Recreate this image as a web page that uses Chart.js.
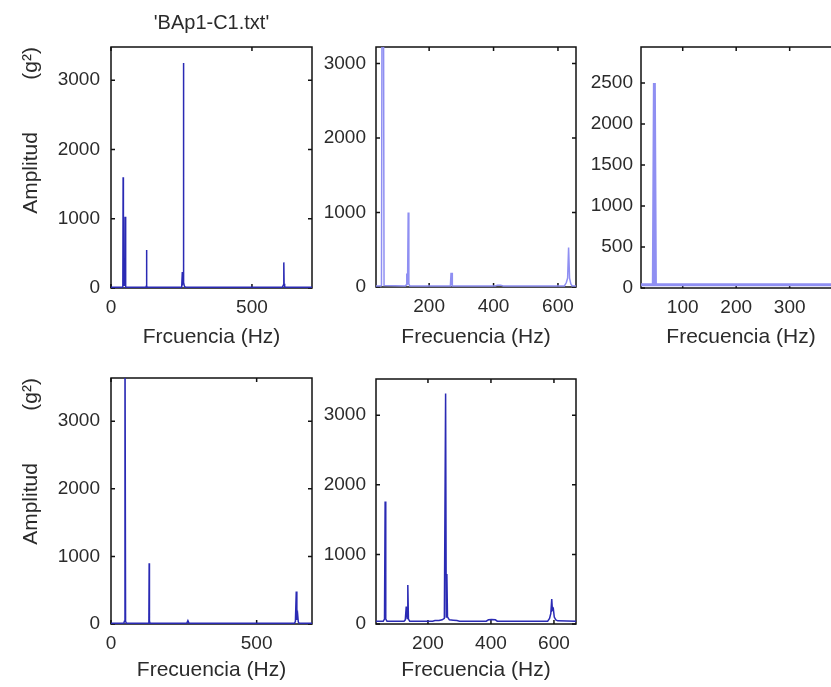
<!DOCTYPE html>
<html>
<head>
<meta charset="utf-8">
<script src="https://cdn.jsdelivr.net/npm/chart.js@4"></script>
<style>
  html, body { margin: 0; padding: 0; background: #fff; overflow: hidden; }
  body { width: 831px; height: 687px; position: relative; }
  canvas { position: absolute; }
</style>
</head>
<body>
<canvas id="c1"></canvas>
<canvas id="c2"></canvas>
<canvas id="c3"></canvas>
<canvas id="c4"></canvas>
<canvas id="c5"></canvas>
<script>
// espectros (Hz / amplitud g^2)
const freq1 = [0, 40, 42, 43, 44, 49, 50, 51, 53, 124, 125.5, 126, 127, 128.5, 249, 251, 253, 254, 256, 257, 258, 260, 264, 608, 611, 613, 614, 616, 620, 713];
const amp1  = [10, 10, 40, 1600, 40, 40, 1030, 30, 10, 10, 30, 550, 30, 10, 10, 40, 230, 60, 80, 3250, 80, 30, 10, 10, 40, 370, 60, 20, 10, 10];

const freq2 = [35, 50, 52, 54, 58, 60, 126, 129, 130, 131, 133, 135, 137, 140, 266, 268, 269, 271, 272, 405, 412, 422, 430, 620, 626, 630, 633, 636, 640, 644, 656];
const amp2  = [15, 15, 20, 4500, 4500, 20, 15, 30, 180, 30, 40, 1000, 40, 15, 15, 190, 20, 190, 15, 15, 25, 25, 15, 15, 60, 120, 530, 120, 40, 15, 15];

const freq3 = [22, 45, 47, 49, 396];
const amp3  = [40, 40, 2500, 40, 40];

const freq4 = [0, 44, 46, 48, 50, 53, 128, 130, 131, 132, 134, 260, 264, 268, 630, 633, 636, 638, 641, 643, 646, 690];
const amp4  = [10, 10, 40, 4500, 40, 10, 10, 40, 900, 40, 10, 10, 50, 10, 10, 40, 480, 60, 130, 30, 10, 10];

const freq5 = [35, 58, 62, 64, 66, 70, 124, 128, 131, 134, 136, 138, 142, 215, 222, 235, 245, 252, 256, 258, 260, 262, 268, 280, 292, 300, 385, 392, 402, 414, 420, 580, 586, 590, 593, 595, 598, 601, 606, 612, 670];
const amp5  = [40, 40, 70, 1760, 70, 40, 40, 60, 250, 80, 560, 70, 40, 40, 50, 50, 60, 80, 3310, 100, 720, 100, 60, 55, 50, 40, 40, 60, 65, 60, 40, 40, 80, 150, 360, 200, 220, 100, 60, 45, 40];

const xTicks1 = [0, 500];
const xTicks2 = [200, 400, 600];
const xTicks3 = [100, 200, 300];
const xTicks4 = [0, 500];
const xTicks5 = [200, 400, 600];
const yTicks1000 = [0, 1000, 2000, 3000];
const yTicks500 = [0, 500, 1000, 1500, 2000, 2500];

const dark = '#2a2ab4';
const light = '#8f8ff2';

Chart.defaults.font.family = "'Liberation Sans', Arial, sans-serif";
Chart.defaults.color = '#2b2b2b';

// caja estilo matlab con marcas hacia dentro
const boxPlugin = {
  id: 'axesBox',
  beforeDatasetsDraw(chart) {
    const a = chart.chartArea, c = chart.ctx;
    const sx = chart.scales.x, sy = chart.scales.y;
    c.save();
    c.strokeStyle = '#111';
    c.lineWidth = 1.5;
    c.strokeRect(a.left, a.top, a.right - a.left, a.bottom - a.top);
    c.beginPath();
    sx.ticks.forEach(t => {
      const p = sx.getPixelForValue(t.value);
      c.moveTo(p, a.bottom); c.lineTo(p, a.bottom - 4);
      c.moveTo(p, a.top); c.lineTo(p, a.top + 4);
    });
    sy.ticks.forEach(t => {
      const p = sy.getPixelForValue(t.value);
      c.moveTo(a.left, p); c.lineTo(a.left + 4, p);
      c.moveTo(a.right, p); c.lineTo(a.right - 4, p);
    });
    c.stroke();
    c.restore();
  }
};

function spectrum(id, o) {
  const cv = document.getElementById(id);
  cv.width = o.w; cv.height = o.h;
  cv.style.left = o.left + 'px';
  cv.style.top = o.top + 'px';
  return new Chart(cv, {
    type: 'line',
    data: {
      datasets: [{
        data: o.freq.map((f, i) => ({x: f, y: o.amp[i]})),
        borderColor: o.color,
        borderWidth: o.lw,
        pointRadius: 0,
        tension: 0,
        clip: 0
      }]
    },
    options: {
      responsive: false,
      animation: false,
      layout: { padding: { top: o.padTop, right: o.padRight, left: 0, bottom: 0 } },
      plugins: {
        legend: { display: false },
        tooltip: { enabled: false },
        title: o.title ? {
          display: true, text: o.title, fullSize: false,
          font: { size: 20, weight: 'normal' }, color: '#2b2b2b',
          padding: { top: 11, bottom: 12 }
        } : { display: false }
      },
      scales: {
        x: {
          type: 'linear', min: o.xMin, max: o.xMax,
          grid: { display: false, drawTicks: false },
          border: { display: false },
          afterBuildTicks: s => { s.ticks = o.xTicks.map(v => ({value: v})); },
          afterFit: s => { s.height = o.xH; },
          ticks: { autoSkip: false, maxRotation: 0, padding: 8, font: { size: 19 }, callback: v => String(v) },
          title: { display: true, text: o.xLabel, font: { size: 21 }, padding: { top: o.xTitlePad, bottom: o.xTitlePad } }
        },
        y: {
          type: 'linear', min: 0, max: o.yMax,
          grid: { display: false, drawTicks: false },
          border: { display: false },
          afterBuildTicks: s => { s.ticks = o.yTicks.map(v => ({value: v})); },
          afterFit: s => { s.width = o.yW; },
          ticks: { autoSkip: false, padding: o.yPad, font: { size: 19 }, callback: v => String(v) },
          title: {
            display: !!o.yLabel, text: o.yLabel || '', align: 'end',
            font: { size: 21 }, padding: { top: 19, bottom: 19 }
          }
        }
      }
    },
    plugins: [boxPlugin]
  });
}

const yTitle = 'Amplitud         (g\u00B2)';

spectrum('c1', { left: 0, top: 0, w: 320, h: 361, padTop: 0, padRight: 8, yW: 111, xH: 73, xTitlePad: 11, yPad: 11,
  freq: freq1, amp: amp1, color: dark, lw: 1.5, xMin: 0, xMax: 713, yMax: 3480,
  xTicks: xTicks1, yTicks: yTicks1000, xLabel: 'Frcuencia (Hz)', yLabel: yTitle, title: "'BAp1-C1.txt'" });

spectrum('c2', { left: 320, top: 0, w: 264, h: 361, padTop: 47, padRight: 8, yW: 56, xH: 74, xTitlePad: 11, yPad: 10,
  freq: freq2, amp: amp2, color: light, lw: 1.5, xMin: 35, xMax: 656, yMax: 3220,
  xTicks: xTicks2, yTicks: yTicks1000, xLabel: 'Frecuencia (Hz)' });

spectrum('c3', { left: 585, top: 0, w: 261, h: 361, padTop: 47, padRight: 5, yW: 56, xH: 73, xTitlePad: 11, yPad: 8,
  freq: freq3, amp: amp3, color: light, lw: 3, xMin: 22, xMax: 396, yMax: 2940,
  xTicks: xTicks3, yTicks: yTicks500, xLabel: 'Frecuencia (Hz)' });

spectrum('c4', { left: 0, top: 340, w: 320, h: 347, padTop: 38, padRight: 8, yW: 111, xH: 63, xTitlePad: 4, yPad: 11,
  freq: freq4, amp: amp4, color: dark, lw: 1.5, xMin: 0, xMax: 690, yMax: 3640,
  xTicks: xTicks4, yTicks: yTicks1000, xLabel: 'Frecuencia (Hz)', yLabel: yTitle });

spectrum('c5', { left: 320, top: 340, w: 264, h: 347, padTop: 39, padRight: 8, yW: 56, xH: 63, xTitlePad: 4, yPad: 10,
  freq: freq5, amp: amp5, color: dark, lw: 1.5, xMin: 35, xMax: 670, yMax: 3520,
  xTicks: xTicks5, yTicks: yTicks1000, xLabel: 'Frecuencia (Hz)' });
</script>
</body>
</html>
